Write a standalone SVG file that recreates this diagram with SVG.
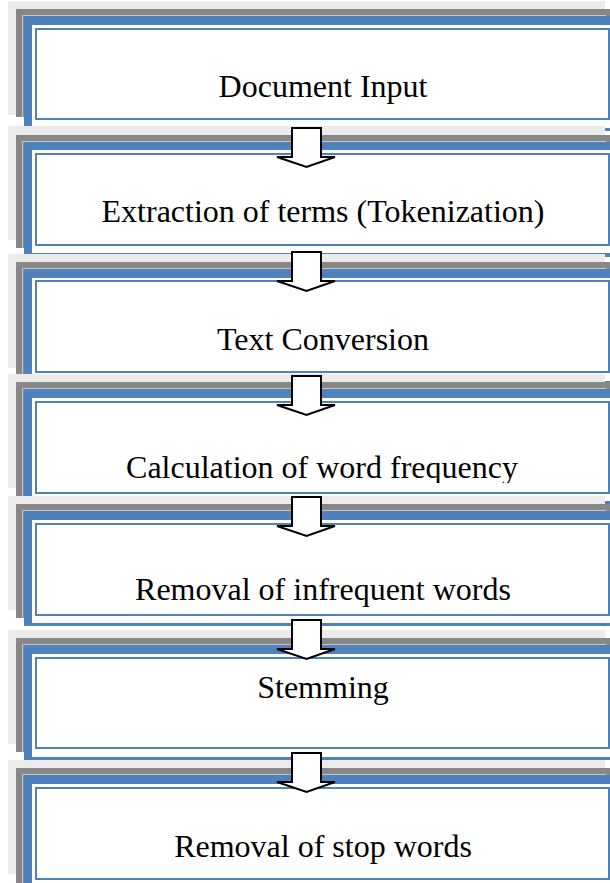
<svg xmlns="http://www.w3.org/2000/svg" width="610" height="883" viewBox="0 0 610 883">
<style>
.lg{fill:#ebebeb}
.dg{fill:#878787}
.hl{fill:none;stroke:#c8c8c8;stroke-width:1}
.bl{fill:#4f81bd}
.wh{fill:#ffffff}
.in{fill:#ffffff;stroke:#4f81bd;stroke-width:2}
.lbl{font-family:"Liberation Serif","Times New Roman",serif;font-size:32px;fill:#000;text-anchor:middle}
.arr{fill:#ffffff;stroke:#000;stroke-width:2;stroke-linejoin:miter}
</style>
<defs>
<clipPath id="clip4"><rect x="36" y="401" width="573" height="82"/></clipPath>
</defs>
<rect width="610" height="883" fill="#ffffff"/>
<g id="node1">
<rect class="lg" x="8" y="1" width="597" height="114"/>
<rect class="dg" x="16" y="9" width="600" height="108"/>
<path class="hl" d="M22.5,117 V15.5 H606"/>
<rect class="bl" x="24" y="16" width="600" height="115"/>
<rect class="wh" x="32" y="25" width="582" height="103"/>
<rect class="in" x="36" y="29" width="573" height="90"/>
<text class="lbl" x="323" y="97">Document Input</text>
</g>
<g id="node2">
<rect class="lg" x="8" y="126" width="597" height="114"/>
<rect class="dg" x="16" y="135" width="600" height="113"/>
<path class="hl" d="M22.5,248 V141.5 H606"/>
<rect class="bl" x="24" y="142" width="600" height="115"/>
<rect class="wh" x="32" y="150" width="582" height="103"/>
<rect class="in" x="36" y="154" width="573" height="91"/>
<text class="lbl" x="323" y="222">Extraction of terms (Tokenization)</text>
</g>
<g id="node3">
<rect class="lg" x="8" y="254" width="597" height="114"/>
<rect class="dg" x="16" y="262" width="600" height="114"/>
<path class="hl" d="M22.5,376 V268.5 H606"/>
<rect class="bl" x="24" y="269" width="600" height="115"/>
<rect class="wh" x="32" y="278" width="582" height="103"/>
<rect class="in" x="36" y="281" width="573" height="91"/>
<text class="lbl" x="323" y="350">Text Conversion</text>
</g>
<g id="node4">
<rect class="lg" x="8" y="374" width="597" height="114"/>
<rect class="dg" x="16" y="382" width="600" height="114"/>
<path class="hl" d="M22.5,496 V388.5 H606"/>
<rect class="bl" x="24" y="389" width="600" height="115"/>
<rect class="wh" x="32" y="398" width="582" height="103"/>
<rect class="in" x="36" y="402" width="573" height="91"/>
<text class="lbl" x="322" y="478" clip-path="url(#clip4)">Calculation of word frequency</text>
</g>
<g id="node5">
<rect class="lg" x="8" y="496" width="597" height="114"/>
<rect class="dg" x="16" y="504" width="600" height="114"/>
<path class="hl" d="M22.5,618 V510.5 H606"/>
<rect class="bl" x="24" y="511" width="600" height="115"/>
<rect class="wh" x="32" y="520" width="582" height="103"/>
<rect class="in" x="36" y="524" width="573" height="91"/>
<text class="lbl" x="323" y="600">Removal of infrequent words</text>
</g>
<g id="node6">
<rect class="lg" x="8" y="630" width="597" height="114"/>
<rect class="dg" x="16" y="638" width="600" height="114"/>
<path class="hl" d="M22.5,752 V644.5 H606"/>
<rect class="bl" x="24" y="645" width="600" height="115"/>
<rect class="wh" x="32" y="654" width="582" height="103"/>
<rect class="in" x="36" y="658" width="573" height="90"/>
<text class="lbl" x="323" y="698">Stemming</text>
</g>
<g id="node7">
<rect class="lg" x="8" y="760" width="597" height="114"/>
<rect class="dg" x="16" y="768" width="600" height="120"/>
<path class="hl" d="M22.5,883 V774.5 H606"/>
<rect class="bl" x="24" y="775" width="600" height="115"/>
<rect class="wh" x="32" y="784" width="582" height="103"/>
<rect class="in" x="36" y="788" width="573" height="91"/>
<text class="lbl" x="323" y="857">Removal of stop words</text>
</g>
<g id="connectors">
<polygon class="arr" points="292,128 321,128 321,157 335,157 306.5,167 277,157 292,157"/>
<polygon class="arr" points="292,252 321,252 321,281 335,281 306.5,291 277,281 292,281"/>
<polygon class="arr" points="292,376 321,376 321,405 335,405 306.5,415 277,405 292,405"/>
<polygon class="arr" points="292,497 321,497 321,526 335,526 306.5,536 277,526 292,526"/>
<polygon class="arr" points="292,620 321,620 321,649 335,649 306.5,659 277,649 292,649"/>
<polygon class="arr" points="292,753 321,753 321,782 335,782 306.5,792 277,782 292,782"/>
</g>
</svg>
